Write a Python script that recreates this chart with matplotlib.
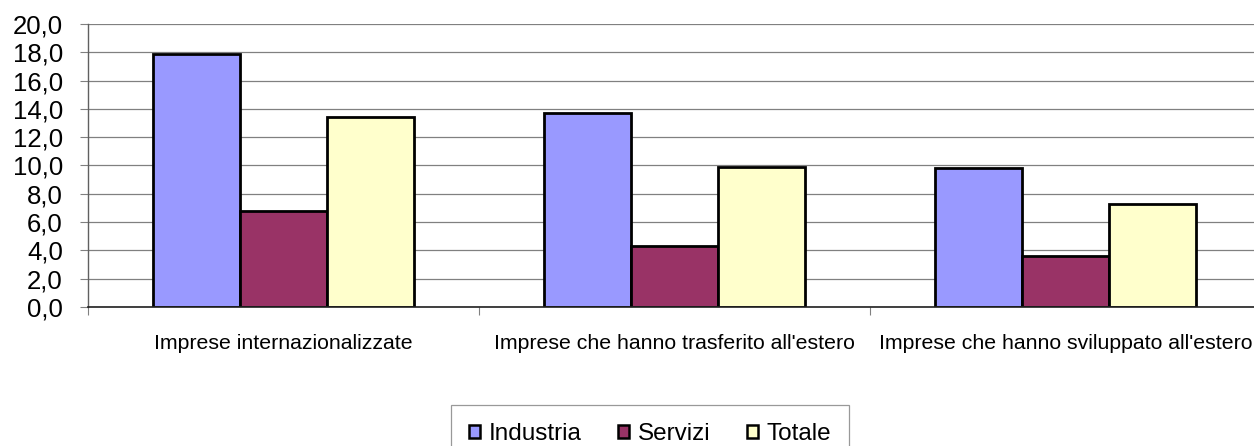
import numpy as np
import matplotlib
matplotlib.use("Agg")
import matplotlib.pyplot as plt
from matplotlib.ticker import FuncFormatter, FixedLocator
from matplotlib.patches import Patch

plt.rcParams["font.family"] = ["Liberation Sans", "DejaVu Sans"]

# --- data ---
categories = ["Imprese internazionalizzate",
              "Imprese che hanno trasferito all'estero",
              "Imprese che hanno sviluppato all'estero"]
series_names = ["Industria", "Servizi", "Totale"]
industria = [17.9, 13.7, 9.8]
servizi = [6.8, 4.3, 3.6]
totale = [13.4, 9.9, 7.3]
y_ticks = [0, 2, 4, 6, 8, 10, 12, 14, 16, 18, 20]

colors = ["#9999FF", "#993366", "#FFFFCC"]
W, H = 1254, 446

fig = plt.figure(figsize=(W / 100, H / 100), dpi=100)
ax = fig.add_axes([88 / W, 1 - 307 / H, (1261 - 88) / W, (307 - 24) / H])

x = np.arange(len(categories))
bw = 0.2225
for i, (vals, name) in enumerate(zip([industria, servizi, totale], series_names)):
    ax.bar(x + (i - 1) * bw, vals, width=bw, color=colors[i], edgecolor="black",
           linewidth=2.0, label=name, zorder=3)

ax.set_xlim(-0.5, len(categories) - 0.5)
ax.set_ylim(0, 20)
ax.set_yticks(y_ticks)
ax.yaxis.set_major_formatter(FuncFormatter(lambda v, p: f"{v:.1f}".replace(".", ",")))
ax.yaxis.grid(True, color="#808080", linewidth=0.9, zorder=0)

# category boundaries as ticks, names centred on the groups
ax.xaxis.set_major_locator(FixedLocator(np.arange(-0.5, len(categories), 1.0)))
ax.xaxis.set_minor_locator(FixedLocator(x))
ax.set_xticklabels([], minor=False)
ax.set_xticklabels(categories, minor=True)

ax.tick_params(axis="y", length=6, width=0.8, color="#808080", pad=12, labelsize=18.5)
ax.tick_params(axis="x", which="major", length=6, width=0.8, color="#808080")
ax.tick_params(axis="x", which="minor", length=0, pad=19.5, labelsize=15.3)

for s in ["top", "right"]:
    ax.spines[s].set_visible(False)
ax.spines["left"].set_color("#606060")
ax.spines["left"].set_linewidth(1.0)
ax.spines["bottom"].set_color("#202020")
ax.spines["bottom"].set_linewidth(1.2)
ax.spines["bottom"].set_zorder(4)

handles = [Patch(facecolor=c, edgecolor="black", linewidth=1.8) for c in colors]
leg = fig.legend(handles, series_names, loc="upper center",
                 bbox_to_anchor=(650 / W, 1 - 405 / H), ncol=3, fontsize=17.5,
                 frameon=True, fancybox=False, edgecolor="#808080",
                 handlelength=0.45, handleheight=0.45, handletextpad=0.35,
                 columnspacing=1.5, borderpad=0.75, borderaxespad=0)
leg.get_frame().set_linewidth(0.9)

fig.savefig("out.png", dpi=100)
